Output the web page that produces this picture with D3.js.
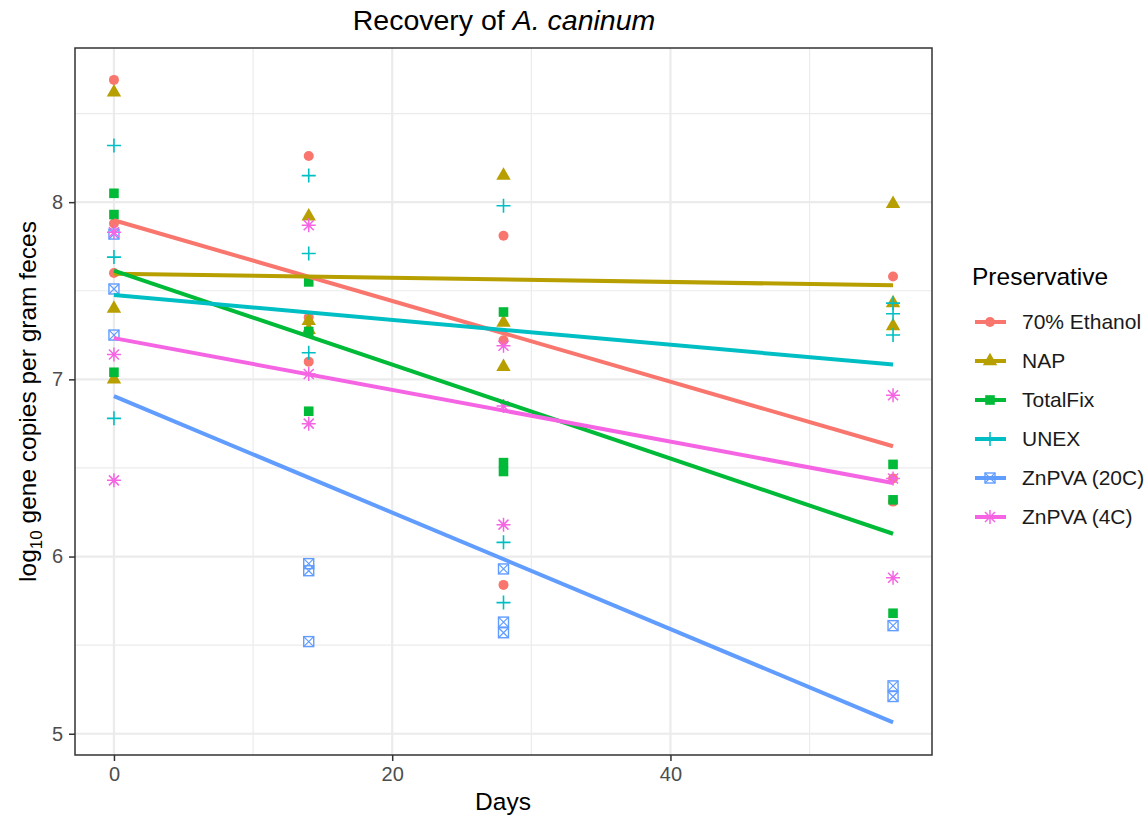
<!DOCTYPE html>
<html>
<head>
<meta charset="utf-8">
<script src="https://cdn.jsdelivr.net/npm/d3@7"></script>
<style>
  body { margin: 0; background: #fff; }
  text { font-family: "Liberation Sans", Arial, sans-serif; }
</style>
</head>
<body>
<div id="chart"></div>
<script>
// sampling days and preservative groups
const days = [0, 14, 28, 56]
const preservatives = ["70% Ethanol", "NAP", "TotalFix", "UNEX", "ZnPVA (20C)", "ZnPVA (4C)"]
const colors = ["#F8766D", "#B79F00", "#00BA38", "#00BFC4", "#619CFF", "#F564E3"]
const shapes = ["circle", "triangle", "square", "plus", "squarecross", "asterisk"]

// log10 copies, one inner array per day (3 replicates)
const ethanol  = [[8.69, 7.88, 7.60], [8.26, 7.35, 7.10], [7.81, 7.22, 5.84], [7.58, 6.44, 6.31]]
const nap      = [[8.62, 7.40, 7.00], [7.92, 7.33, 7.28], [8.15, 7.32, 7.07], [7.99, 7.43, 7.30]]
const totalFix = [[8.05, 7.93, 7.04], [7.55, 7.27, 6.82], [7.38, 6.53, 6.48], [6.52, 6.32, 5.68]]
const unex     = [[8.32, 7.69, 6.78], [8.15, 7.71, 7.15], [7.98, 6.08, 5.74], [7.43, 7.37, 7.25]]
const znpva20  = [[7.82, 7.51, 7.25], [5.96, 5.92, 5.52], [5.93, 5.63, 5.57], [5.61, 5.27, 5.21]]
const znpva4   = [[7.83, 7.14, 6.43], [7.87, 7.03, 6.75], [7.19, 6.85, 6.18], [6.91, 6.44, 5.88]]

const xTicks = [0, 20, 40]
const yTicks = [5, 6, 7, 8]

const seriesValues = [ethanol, nap, totalFix, unex, znpva20, znpva4]

var width = 1147
var height = 816
var panel = { left: 75, right: 932, top: 48, bottom: 755 }

var svg = d3.select("#chart")
    .append("svg")
    .attr("width", width)
    .attr("height", height)

var x = d3.scaleLinear().domain([-2.8, 58.8]).range([panel.left, panel.right])
var y = d3.scaleLinear().domain([4.88, 8.87]).range([panel.bottom, panel.top])

// grid
var grid = svg.append("g")
;[10, 30, 50].forEach(function(t) {
    grid.append("line").attr("x1", x(t)).attr("x2", x(t)).attr("y1", panel.top).attr("y2", panel.bottom)
        .attr("stroke", "#EBEBEB").attr("stroke-width", 1.2)
})
;[5.5, 6.5, 7.5, 8.5].forEach(function(t) {
    grid.append("line").attr("x1", panel.left).attr("x2", panel.right).attr("y1", y(t)).attr("y2", y(t))
        .attr("stroke", "#EBEBEB").attr("stroke-width", 1.2)
})
xTicks.forEach(function(t) {
    grid.append("line").attr("x1", x(t)).attr("x2", x(t)).attr("y1", panel.top).attr("y2", panel.bottom)
        .attr("stroke", "#EBEBEB").attr("stroke-width", 2.2)
})
yTicks.forEach(function(t) {
    grid.append("line").attr("x1", panel.left).attr("x2", panel.right).attr("y1", y(t)).attr("y2", y(t))
        .attr("stroke", "#EBEBEB").attr("stroke-width", 2.2)
})

function drawShape(g, shape, color) {
    if (shape == "circle") {
        g.append("circle").attr("r", 5).attr("fill", color)
    } else if (shape == "triangle") {
        g.append("path").attr("d", d3.symbol().type(d3.symbolTriangle).size(90)()).attr("fill", color)
    } else if (shape == "square") {
        g.append("rect").attr("x", -4.8).attr("y", -4.8).attr("width", 9.6).attr("height", 9.6).attr("fill", color)
    } else if (shape == "plus") {
        g.append("path").attr("d", "M-7,0H7M0,-7V7").attr("stroke", color).attr("stroke-width", 1.6).attr("fill", "none")
    } else if (shape == "squarecross") {
        g.append("rect").attr("x", -5).attr("y", -5).attr("width", 10).attr("height", 10)
            .attr("fill", "none").attr("stroke", color).attr("stroke-width", 1.4)
        g.append("path").attr("d", "M-5,-5L5,5M-5,5L5,-5").attr("stroke", color).attr("stroke-width", 1.2)
    } else if (shape == "asterisk") {
        g.append("path").attr("d", "M-7,0H7M0,-7V7M-5,-5L5,5M-5,5L5,-5")
            .attr("stroke", color).attr("stroke-width", 1.5).attr("fill", "none")
    }
}

// points
var pointsG = svg.append("g")
seriesValues.forEach(function(vals, si) {
    vals.forEach(function(reps, di) {
        reps.forEach(function(v) {
            var g = pointsG.append("g").attr("transform", "translate(" + x(days[di]) + "," + y(v) + ")")
            drawShape(g, shapes[si], colors[si])
        })
    })
})

// least squares fit for each preservative
function fitLine(vals) {
    var xs = [], ys = []
    vals.forEach(function(reps, di) { reps.forEach(function(v) { xs.push(days[di]); ys.push(v) }) })
    var mx = d3.mean(xs), my = d3.mean(ys)
    var sxy = d3.sum(xs, function(d, i) { return (d - mx) * (ys[i] - my) })
    var sxx = d3.sum(xs, function(d) { return (d - mx) * (d - mx) })
    var b = sxy / sxx
    var a = my - b * mx
    return [[0, a], [56, a + b * 56]]
}

var line = d3.line().x(function(d) { return x(d[0]) }).y(function(d) { return y(d[1]) })
seriesValues.forEach(function(vals, si) {
    svg.append("path")
        .attr("d", line(fitLine(vals)))
        .attr("stroke", colors[si])
        .attr("stroke-width", 4)
        .attr("fill", "none")
})

// panel border
svg.append("rect")
    .attr("x", panel.left).attr("y", panel.top)
    .attr("width", panel.right - panel.left).attr("height", panel.bottom - panel.top)
    .attr("fill", "none").attr("stroke", "#333333").attr("stroke-width", 1.5)

// axes
var xAxis = svg.append("g").attr("transform", "translate(0," + panel.bottom + ")")
    .call(d3.axisBottom(x).tickValues(xTicks).tickFormat(d3.format("d")).tickSize(6).tickPadding(6))
var yAxis = svg.append("g").attr("transform", "translate(" + panel.left + ",0)")
    .call(d3.axisLeft(y).tickValues(yTicks).tickFormat(d3.format("d")).tickSize(6).tickPadding(6))
;[xAxis, yAxis].forEach(function(ax) {
    ax.select(".domain").remove()
    ax.selectAll(".tick line").attr("stroke", "#333333").attr("stroke-width", 1.5)
    ax.selectAll(".tick text").attr("fill", "#4D4D4D").style("font-size", "20px")
        .style("font-family", "'Liberation Sans', Arial, sans-serif")
})

// titles
var title = svg.append("text").attr("x", 504).attr("y", 30).attr("text-anchor", "middle")
    .style("font-size", "28.5px").attr("fill", "#000")
title.append("tspan").text("Recovery of ")
title.append("tspan").style("font-style", "italic").text("A. caninum")

svg.append("text").attr("x", 503).attr("y", 810).attr("text-anchor", "middle")
    .style("font-size", "24.5px").text("Days")

var yTitle = svg.append("text")
    .attr("transform", "translate(36," + ((panel.top + panel.bottom) / 2) + ") rotate(-90)")
    .attr("text-anchor", "middle")
    .style("font-size", "24.5px")
yTitle.append("tspan").text("log")
yTitle.append("tspan").attr("dy", 6).style("font-size", "17px").text("10")
yTitle.append("tspan").attr("dy", -6).text(" gene copies per gram feces")

// legend
var legend = svg.append("g")
legend.append("text").attr("x", 972).attr("y", 285).style("font-size", "24.5px").text("Preservative")
preservatives.forEach(function(name, i) {
    var ly = 322 + i * 39
    var item = legend.append("g").attr("transform", "translate(0," + ly + ")")
    item.append("line").attr("x1", 975).attr("x2", 1006).attr("y1", 0).attr("y2", 0)
        .attr("stroke", colors[i]).attr("stroke-width", 4)
    var sym = item.append("g").attr("transform", "translate(990,0)")
    drawShape(sym, shapes[i], colors[i])
    item.append("text").attr("x", 1022).attr("y", 7).style("font-size", "21px").attr("fill", "#1a1a1a").text(name)
})
</script>
</body>
</html>
